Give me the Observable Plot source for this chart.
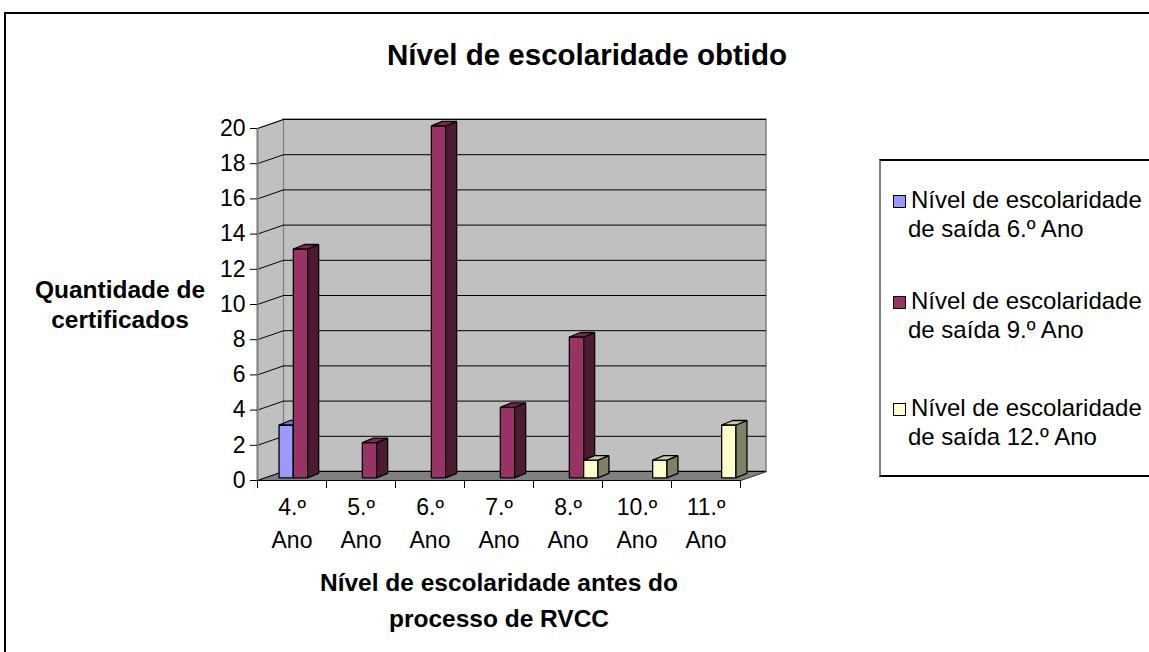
<!DOCTYPE html>
<html>
<head>
<meta charset="utf-8">
<script src="https://cdn.jsdelivr.net/npm/d3@7"></script>
<script src="https://cdn.jsdelivr.net/npm/@observablehq/plot@0.6"></script>
<style>
html,body{margin:0;padding:0;background:#fff;overflow:hidden;}
#wrap{position:relative;width:1149px;height:652px;overflow:hidden;font-family:"Liberation Sans",Arial,sans-serif;color:#000;}
#wrap svg{position:absolute;left:0;top:0;}
.t{position:absolute;white-space:pre;color:#000;}
</style>
</head>
<body>
<div id="wrap"></div>
<script>
// ---- data ----
const categories = ["4.º Ano", "5.º Ano", "6.º Ano", "7.º Ano", "8.º Ano", "10.º Ano", "11.º Ano"];
const seriesNames = [
  "Nível de escolaridade de saída 6.º Ano",
  "Nível de escolaridade de saída 9.º Ano",
  "Nível de escolaridade de saída 12.º Ano"
];
const saida6  = [3, 0, 0, 0, 0, 0, 0];
const saida9  = [13, 2, 20, 4, 8, 0, 0];
const saida12 = [0, 0, 0, 0, 1, 1, 3];
const yTicks = [0, 2, 4, 6, 8, 10, 12, 14, 16, 18, 20];
const chartTitle = "Nível de escolaridade obtido";
const yTitle = ["Quantidade de", "certificados"];
const xTitle = ["Nível de escolaridade antes do", "processo de RVCC"];

// ---- styles / layout ----
const palette = [
  {front: "#9999FF", top: "#7A7ACC", side: "#4D4D80"},
  {front: "#993366", top: "#7A2952", side: "#4D1A33"},
  {front: "#FFFFCC", top: "#CCCCA3", side: "#808066"}
];
const W = 1149, H = 652;
const X0 = 257, X1 = 740, Y0 = 480, Y1 = 128;
const n = categories.length;
const yMax = d3.max(yTicks);
const ux = (X1 - X0) / n, uy = (Y0 - Y1) / yMax;
const wx = 26 / ux, wy = 9 / uy;            // wall depth in data units
const BW = 14.3, OFFX = 8.5, OFFY = 2.7, BDX = 11, BDY = 4.5; // bar geometry px
const FS = 23; // regular text size

const seriesValues = [saida6, saida9, saida12];

// wall polygons
const wallPolys = [];
function addPoly(arr, id, fill, pts) { pts.forEach(([x, y]) => arr.push({id, fill, x, y})); }
addPoly(wallPolys, "left", "#C0C0C0", [[0, 0], [wx, wy], [wx, yMax + wy], [0, yMax]]);
addPoly(wallPolys, "floor", "#808080", [[0, 0], [n, 0], [n + wx, wy], [wx, wy]]);

// bar polygons (front, side, top per bar, in drawing order)
const barPolys = [];
categories.forEach((c, i) => {
  seriesValues.forEach((vals, s) => {
    const v = vals[i];
    if (!v) return;
    const xl = i + 0.5 + (OFFX - 1.5 * BW + s * BW) / ux;
    const xr = xl + BW / ux;
    const yb = OFFY / uy, yt = v + OFFY / uy;
    const ddx = BDX / ux, ddy = BDY / uy;
    const col = palette[s];
    addPoly(barPolys, `${i}-${s}-f`, col.front, [[xl, yb], [xr, yb], [xr, yt], [xl, yt]]);
    addPoly(barPolys, `${i}-${s}-s`, col.side, [[xr, yb], [xr + ddx, yb + ddy], [xr + ddx, yt + ddy], [xr, yt]]);
    addPoly(barPolys, `${i}-${s}-t`, col.top, [[xl, yt], [xr, yt], [xr + ddx, yt + ddy], [xl + ddx, yt + ddy]]);
  });
});

const plot = Plot.plot({
  width: W, height: H,
  marginLeft: X0, marginRight: W - X1, marginTop: Y1, marginBottom: H - Y0,
  style: {fontFamily: "Liberation Sans, Arial, sans-serif", fontSize: FS + "px", background: "transparent", color: "black", overflow: "visible"},
  x: {domain: [0, n]},
  y: {domain: [0, yMax]},
  color: {type: "identity"},
  marks: [
    Plot.rect([0], {x1: () => wx, x2: () => n + wx, y1: () => wy, y2: () => yMax + wy, fill: "#C0C0C0", stroke: "#808080", strokeWidth: 1.5}),
    Plot.line(wallPolys, {x: "x", y: "y", z: "id", fill: "fill", stroke: "#808080", strokeWidth: 1.2, curve: "linear-closed", strokeLinejoin: "miter"}),
    Plot.ruleY(yTicks, {y: d => d + wy, x1: () => wx, x2: () => n + wx, stroke: "black", strokeWidth: 1}),
    Plot.link(yTicks, {x1: () => 0, y1: d => d, x2: () => wx, y2: d => d + wy, stroke: "black", strokeWidth: 1}),
    Plot.ruleX([0], {y1: () => 0, y2: () => yMax, stroke: "#808080", strokeWidth: 2}),
    Plot.link([0], {x1: () => n, y1: () => 0, x2: () => n + wx, y2: () => wy, stroke: "#404040", strokeWidth: 1}),
    Plot.ruleY([0], {x1: () => 0, x2: () => n, stroke: "black", strokeWidth: 1.2}),
    Plot.axisY(yTicks, {tickSize: 7, tickPadding: 5, fontSize: FS, label: null, stroke: "black"}),
    Plot.axisX(d3.range(0, n + 1), {tickSize: 8, tickFormat: () => "", label: null, stroke: "black"}),
    Plot.line(barPolys, {x: "x", y: "y", z: "id", fill: "fill", stroke: "black", strokeWidth: 1.3, curve: "linear-closed", strokeLinejoin: "miter"}),
    Plot.text(categories, {x: (d, i) => i + 0.5, y: () => 0, text: d => d.split(" ")[0], dy: 34, lineAnchor: "bottom", fontSize: FS, fill: "black"}),
    Plot.text(categories, {x: (d, i) => i + 0.5, y: () => 0, text: d => d.split(" ")[1], dy: 67, lineAnchor: "bottom", fontSize: FS, fill: "black"})
  ]
});

const wrap = document.getElementById("wrap");

// outer chart border (clipped on the right and bottom)
const border = document.createElement("div");
Object.assign(border.style, {position: "absolute", left: "4px", top: "12px", width: "1300px", height: "800px", border: "2px solid #000", boxSizing: "border-box"});
wrap.appendChild(border);
wrap.appendChild(plot);

function addText(str, {cx, left, baseline, size, bold}) {
  const lh = Math.round(size * 1.2);
  const top = baseline - ((lh - 1.117 * size) / 2 + 0.905 * size);
  const el = document.createElement("div");
  el.className = "t";
  el.textContent = str;
  Object.assign(el.style, {top: top + "px", fontSize: size + "px", lineHeight: lh + "px", fontWeight: bold ? "bold" : "normal"});
  if (cx != null) {
    Object.assign(el.style, {left: (cx - 500) + "px", width: "1000px", textAlign: "center"});
  } else {
    el.style.left = left + "px";
  }
  wrap.appendChild(el);
  return el;
}

addText(chartTitle, {cx: 587, baseline: 65, size: 29.5, bold: true});
addText(yTitle[0], {cx: 120, baseline: 298, size: 24.5, bold: true});
addText(yTitle[1], {cx: 120, baseline: 328, size: 24.5, bold: true});
addText(xTitle[0], {cx: 499, baseline: 591, size: 24.5, bold: true});
addText(xTitle[1], {cx: 499, baseline: 627, size: 24.5, bold: true});

// legend
const lg = document.createElement("div");
Object.assign(lg.style, {position: "absolute", left: "879px", top: "159px", width: "400px", height: "318px",
  borderTop: "2px solid #000", borderBottom: "2px solid #000", borderLeft: "2px solid #808080", boxSizing: "border-box", background: "#fff"});
wrap.appendChild(lg);
const legendBase = [208, 309, 416];
seriesNames.forEach((name, s) => {
  const sq = document.createElement("div");
  Object.assign(sq.style, {position: "absolute", left: "893px", top: (legendBase[s] - 13) + "px", width: "13px", height: "13px",
    background: palette[s].front, border: "1px solid #000", boxSizing: "border-box"});
  wrap.appendChild(sq);
  const k = name.indexOf(" de saída");
  addText(name.slice(0, k), {left: 911, baseline: legendBase[s], size: 24});
  addText(name.slice(k + 1), {left: 908, baseline: legendBase[s] + 29, size: 24});
});
</script>
</body>
</html>
